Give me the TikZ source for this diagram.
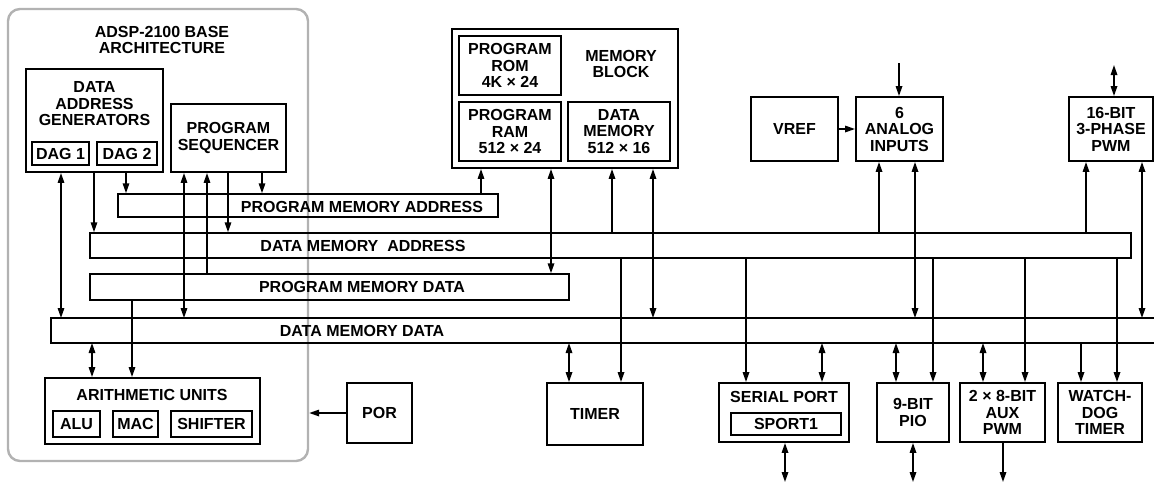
\documentclass[tikz,border=0pt]{standalone}
\usepackage{fontspec}
\setmainfont{Liberation Sans}
\usetikzlibrary{arrows.meta,fit}
\newcommand\bx[4]{%
  \node[box, fit={(#2) (#3)}] (#1) {};
  \node[lbl] (#1-t) at (#1.center) {#4};}
\begin{document}
\begin{tikzpicture}[x=1pt,y=-1pt,
  txt/.style={font=\bfseries\fontsize{16}{16.5}\selectfont},
  box/.style={draw, line width=1.9pt, inner sep=0pt},
  bus/.style={draw, line width=1.5pt, inner sep=0pt},
  outer/.style={draw=black!30, line width=2.4pt, rounded corners=12pt, inner sep=0pt},
  lbl/.style={inner sep=0pt, align=center, txt},
  conn/.style={line width=1.6pt},
  tip/.tip={Triangle[length=10pt,width=6.5pt]},
  arr/.style={conn, -tip},
  darr/.style={conn, tip-tip}]
\useasboundingbox (0,0) rectangle (1154,483);
% base architecture
\node[outer, fit={(8,9) (308,461)}] (base) {};
\node[lbl] (basetitle) at (162,40) {ADSP-2100 BASE\\ARCHITECTURE};
\node[box, fit={(26,69) (163,172)}] (dag) {};
\node[lbl] (dagt) at (94.5,104) {DATA\\ADDRESS\\GENERATORS};
\bx{dag1}{32,142}{89,165}{DAG 1}
\bx{dag2}{97,142}{157,165}{DAG 2}
\bx{ps}{171,104}{286,172}{PROGRAM\\SEQUENCER}
% memory
\node[box, fit={(452,29) (678,168)}] (mem) {};
\bx{rom}{459,36}{561,95}{PROGRAM\\ROM\\4K × 24}
\bx{ram}{459,102}{561,161}{PROGRAM\\RAM\\512 × 24}
\bx{dmem}{568,102}{670,161}{DATA\\MEMORY\\512 × 16}
\node[lbl] (memt) at (621,64) {MEMORY\\BLOCK};
\bx{vref}{751,97}{838,161}{VREF}
\bx{adc}{856,97}{943,161}{6\\ANALOG\\INPUTS}
\bx{pwm}{1069,97}{1153,161}{16-BIT\\3-PHASE\\PWM}
% buses
\node[bus, fit={(118,194) (498,217)}] (pma) {};
\node[bus, fit={(90,233) (1131,258)}] (dma) {};
\node[bus, fit={(90,274) (569,300)}] (pmd) {};
\node[inner sep=0pt, outer sep=0pt, fit={(51,318) (1154,343)}] (dmd) {};
\draw[line width=1.5pt] (dmd.north east) -- (dmd.north west) -- (dmd.south west) -- (dmd.south east);
\node[lbl] (pmal) at (362,207) {PROGRAM MEMORY ADDRESS};
\node[lbl] (dmal) at (363,246) {DATA MEMORY\ \ ADDRESS};
\node[lbl] (pmdl) at (362,287) {PROGRAM MEMORY DATA};
\node[lbl] (dmdl) at (362,331) {DATA MEMORY DATA};
% lower blocks
\node[box, fit={(45,378) (260,444)}] (au) {};
\node[lbl] (aut) at (152,395) {ARITHMETIC UNITS};
\bx{alu}{53,411}{100,437}{ALU}
\bx{mac}{113,411}{158,437}{MAC}
\bx{shf}{171,411}{252,437}{SHIFTER}
\bx{por}{347,383}{412,443}{POR}
\bx{timer}{547,383}{643,445}{TIMER}
\node[box, fit={(719,383) (849,442)}] (sp) {};
\node[lbl] (spt) at (784,397) {SERIAL PORT};
\bx{sport}{731,413}{841,435}{SPORT1}
\bx{pio}{877,383}{949,442}{9-BIT\\PIO}
\bx{aux}{960,383}{1045,442}{2 × 8-BIT\\AUX\\PWM}
\bx{wd}{1058,383}{1142,442}{WATCH-\\DOG\\TIMER}
% free ends
\coordinate (adcin) at (899,63);
\coordinate (pwmio) at (1114,65);
\coordinate (spio) at (785,482);
\coordinate (pioio) at (913,482);
\coordinate (auxout) at (1003,482);
% connectors: DAG and sequencer
\draw[darr] (61,0 |- dag.south) -- (61,0 |- dmd.north);
\draw[arr] (94,0 |- dag.south) -- (94,0 |- dma.north);
\draw[arr] (126,0 |- dag.south) -- (126,0 |- pma.north);
\draw[darr] (184,0 |- ps.south) -- (184,0 |- dmd.north);
\draw[arr] (207,0 |- pmd.north) -- (207,0 |- ps.south);
\draw[arr] (228,0 |- ps.south) -- (228,0 |- dma.north);
\draw[arr] (262,0 |- ps.south) -- (262,0 |- pma.north);
% memory
\draw[arr] (481,0 |- pma.north) -- (481,0 |- mem.south);
\draw[darr] (551,0 |- mem.south) -- (551,0 |- pmd.north);
\draw[arr] (612,0 |- dma.north) -- (612,0 |- mem.south);
\draw[darr] (653,0 |- mem.south) -- (653,0 |- dmd.north);
% analog inputs
\draw[arr] (adcin) -- (adcin |- adc.north);
\draw[arr] (vref.east) -- (adc.west);
\draw[arr] (879,0 |- dma.north) -- (879,0 |- adc.south);
\draw[darr] (915,0 |- adc.south) -- (915,0 |- dmd.north);
% pwm
\draw[darr] (pwmio) -- (pwmio |- pwm.north);
\draw[arr] (1086,0 |- dma.north) -- (1086,0 |- pwm.south);
\draw[darr] (1142,0 |- pwm.south) -- (1142,0 |- dmd.north);
% arithmetic
\draw[darr] (92,0 |- dmd.south) -- (92,0 |- au.north);
\draw[arr] (132,0 |- pmd.south) -- (132,0 |- au.north);
\draw[arr] (por.west) -- (por.west -| base.east);
% peripherals
\draw[darr] (569,0 |- dmd.south) -- (569,0 |- timer.north);
\draw[arr] (621,0 |- dma.south) -- (621,0 |- timer.north);
\draw[arr] (746,0 |- dma.south) -- (746,0 |- sp.north);
\draw[darr] (822,0 |- dmd.south) -- (822,0 |- sp.north);
\draw[darr] (spio |- sp.south) -- (spio);
\draw[darr] (896,0 |- dmd.south) -- (896,0 |- pio.north);
\draw[arr] (933,0 |- dma.south) -- (933,0 |- pio.north);
\draw[darr] (pioio |- pio.south) -- (pioio);
\draw[darr] (983,0 |- dmd.south) -- (983,0 |- aux.north);
\draw[arr] (1025,0 |- dma.south) -- (1025,0 |- aux.north);
\draw[arr] (auxout |- aux.south) -- (auxout);
\draw[arr] (1081,0 |- dmd.south) -- (1081,0 |- wd.north);
\draw[arr] (1117,0 |- dma.south) -- (1117,0 |- wd.north);
\end{tikzpicture}
\end{document}
